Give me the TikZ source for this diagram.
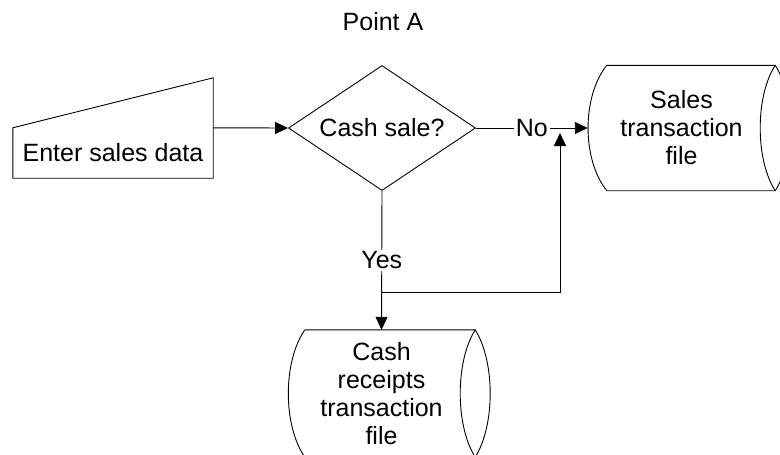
\documentclass[tikz,border=0pt]{standalone}
\usepackage{fontspec}
\setmainfont{Liberation Sans}
\usetikzlibrary{shapes.geometric,arrows.meta,calc}
\tikzset{
  txt/.style={font=\fontsize{25}{28}\selectfont, align=center, inner sep=0pt},
  outline/.style={draw=black, line width=0.9pt},
  conn/.style={draw=black, line width=0.9pt},
  arr/.style={conn, -{Triangle[length=13pt,width=12pt]}},
  lbl/.style={txt, fill=white, inner sep=2pt},
}
\begin{document}
\begin{tikzpicture}[x=1pt,y=-1pt]
\useasboundingbox (0,0) rectangle (780,455);
% title
\node[txt] (pointa) at (383,21.5) {Point A};
% manual input
\node[txt, minimum width=200pt, minimum height=50pt] (enter) at (113,153) {Enter sales data};
\draw[outline] (enter.south west) -- (enter.south east) -- ($(enter.north east)+(0,-50)$) -- (enter.north west) -- cycle;
% decision
\node[txt, shape=diamond, outline, minimum width=187pt, minimum height=125pt, aspect=1.5] (dec) at (382,128) {Cash sale?};
% sales transaction file
\node[txt, minimum width=187pt, minimum height=125pt] (sales) at (681.5,128) {Sales\\transaction\\file};
\draw[outline] ($(sales.north west)+(19,0)$) -- (sales.north east)
  .. controls +(-20,31) and +(-20,-31) .. (sales.south east)
  -- ($(sales.south west)+(19,0)$)
  .. controls +(-25,-31) and +(-25,31) .. ($(sales.north west)+(19,0)$);
\draw[outline] (sales.south east) .. controls +(20,-31) and +(20,31) .. (sales.north east);
% cash receipts transaction file
\node[txt, minimum width=187pt, minimum height=127pt] (cash) at (381.5,393.5) {Cash\\receipts\\transaction\\file};
\draw[outline] ($(cash.north west)+(17,0)$) -- (cash.north east)
  .. controls +(-20,32) and +(-20,-32) .. (cash.south east)
  -- ($(cash.south west)+(17,0)$)
  .. controls +(-22,-32) and +(-22,32) .. ($(cash.north west)+(17,0)$);
\draw[outline] (cash.south east) .. controls +(20,-32) and +(20,32) .. (cash.north east);
% connectors
\draw[arr] (enter.north east) -- (dec.west);
\draw[arr] (dec.east) -- node[lbl] (no) {No} (sales.west);
\draw[arr] (dec.south) -- node[lbl, pos=0.5] (yes) {Yes} (cash.north);
\coordinate (join) at (382,292);
\coordinate (tip) at (560,133);
\draw[arr] (join) -| (tip);
\end{tikzpicture}
\end{document}
